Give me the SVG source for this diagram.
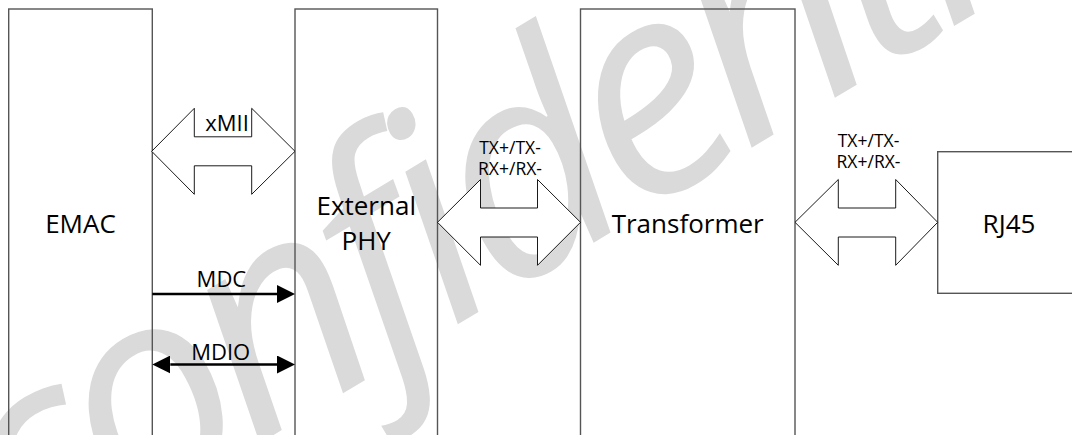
<svg xmlns="http://www.w3.org/2000/svg" width="1072" height="435" viewBox="0 0 1072 435">
  <defs>
    <style>
      .box { fill: none; stroke: #555555; stroke-width: 1.4; }
      .barrow { fill: #ffffff; stroke: #000000; stroke-width: 0.9; stroke-linejoin: miter; }
      .line { stroke: #000000; stroke-width: 2.3; fill: none; }
      .lbl { font-family: "Open Sans", "Liberation Sans", sans-serif; fill: #000000; text-anchor: middle; }
      .big { font-size: 26px; }
      .mid { font-size: 22px; }
      .sml { font-size: 17.5px; }
      .wm { font-family: "Open Sans", "DejaVu Sans", sans-serif; font-style: italic; font-weight: 400; font-size: 295px; letter-spacing: -16px; fill: #dadada; }
    </style>
    <marker id="head" markerUnits="userSpaceOnUse" markerWidth="18" markerHeight="18" refX="0" refY="9" orient="auto-start-reverse" viewBox="0 0 18 18">
      <path d="M0,0 L18,9 L0,18 Z" fill="#000000"/>
    </marker>
  </defs>

  <rect width="1072" height="435" fill="#ffffff"/>

  <g id="watermark">
    <text class="wm" transform="translate(24,585) rotate(-31)">confidential</text>
  </g>

  <g id="emac">
    <rect class="box" x="8.7" y="9" width="143.6" height="460"/>
    <text class="lbl big" x="80.5" y="232.5">EMAC</text>
  </g>

  <g id="external-phy">
    <rect class="box" x="295" y="9" width="142.5" height="460"/>
    <text class="lbl big" x="366.2" y="215">External</text>
    <text class="lbl big" x="366.2" y="250">PHY</text>
  </g>

  <g id="transformer">
    <rect class="box" x="580.5" y="9" width="214.5" height="460"/>
    <text class="lbl big" x="687.7" y="232.5">Transformer</text>
  </g>

  <g id="rj45">
    <rect class="box" x="937.7" y="151.7" width="143" height="141.6"/>
    <text class="lbl big" x="1009" y="232.5">RJ45</text>
  </g>

  <g id="connectors">
    <g id="xmii">
      <path class="barrow" d="M151.7,151.3 L194.3,108.3 L194.3,136.8 L251.7,136.8 L251.7,108.3 L295,151.3 L251.7,194.3 L251.7,165.8 L194.3,165.8 L194.3,194.3 Z"/>
      <text class="lbl mid" x="227" y="131">xMII</text>
    </g>
    <g id="phy-trans">
      <path class="barrow" d="M437.5,222.3 L480.5,179.5 L480.5,208 L537.5,208 L537.5,179.5 L580.5,222.3 L537.5,265.3 L537.5,237 L480.5,237 L480.5,265.3 Z"/>
      <text class="lbl sml" x="510" y="154">TX+/TX-</text>
      <text class="lbl sml" x="510" y="175">RX+/RX-</text>
    </g>
    <g id="trans-rj45">
      <path class="barrow" d="M795,222.3 L838.3,179.5 L838.3,208 L895.7,208 L895.7,179.5 L937.7,222.3 L895.7,265.3 L895.7,237 L838.3,237 L838.3,265.3 Z"/>
      <text class="lbl sml" x="868.5" y="147">TX+/TX-</text>
      <text class="lbl sml" x="868.5" y="168">RX+/RX-</text>
    </g>
    <g id="mdc">
      <line class="line" x1="152.3" y1="294" x2="277" y2="294" marker-end="url(#head)"/>
      <text class="lbl mid" x="221.4" y="287.3">MDC</text>
    </g>
    <g id="mdio">
      <line class="line" x1="170.3" y1="364.5" x2="277" y2="364.5" marker-start="url(#head)" marker-end="url(#head)"/>
      <text class="lbl mid" x="220.7" y="359.5">MDIO</text>
    </g>
  </g>
</svg>
